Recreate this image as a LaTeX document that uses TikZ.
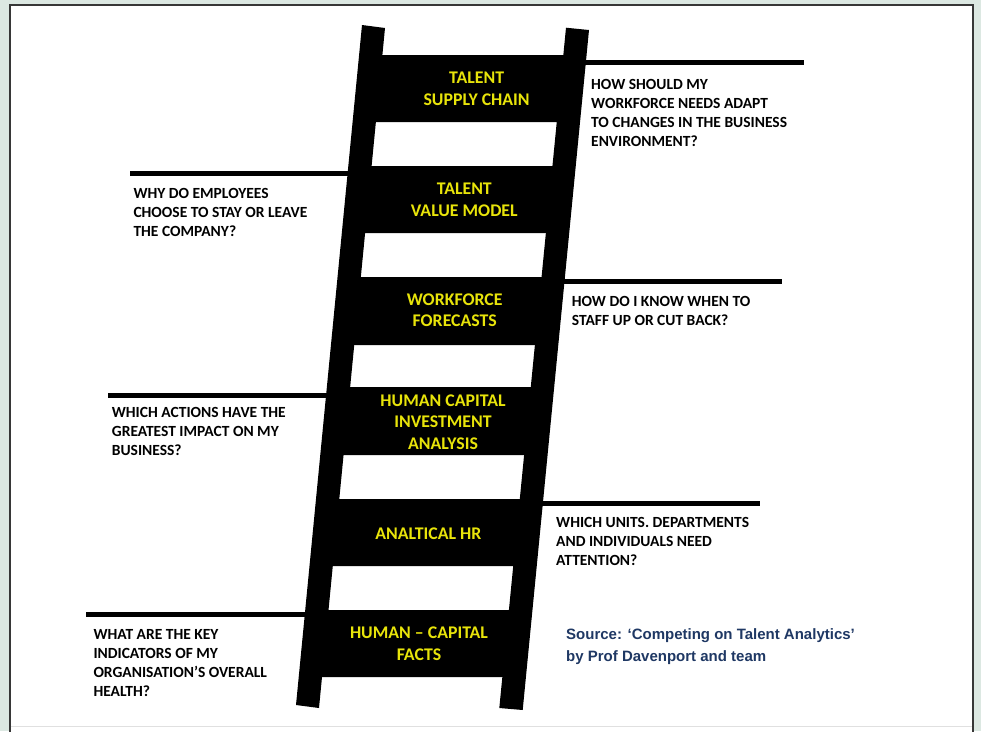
\documentclass[tikz,border=0pt]{standalone}
\usepackage{fontspec}
\setmainfont{Carlito}
\newfontfamily\srcfont{Liberation Sans}
\definecolor{bgout}{RGB}{220,232,226}
\definecolor{framec}{RGB}{55,55,55}
\definecolor{rungtext}{RGB}{232,228,10}
\definecolor{srcblue}{RGB}{31,56,100}
\tikzset{
  question/.style={anchor=base west, align=left, inner sep=0pt, text=black,
    font=\fontsize{15.5}{19}\selectfont\bfseries},
  rungtxt/.style={anchor=base, align=center, inner sep=0pt, text=rungtext,
    font=\fontsize{17.8}{21.5}\selectfont\bfseries},
  qline/.style={line width=4.6pt, black},
  source/.style={anchor=base west, align=left, inner sep=0pt, text=srcblue,
    font=\srcfont\fontsize{15}{22.4}\selectfont\bfseries}
}
\begin{document}
\begin{tikzpicture}[x=1pt,y=-1pt]
\useasboundingbox (0,0) rectangle (981,731);
\clip (0,0) rectangle (981,731);
\fill[bgout] (0,0) rectangle (981,731);
\draw[framec, line width=2.2pt, fill=white] (9.8,5) rectangle (972.8,745);
\draw[black!12, line width=1pt] (10.9,726.5) -- (971.7,726.5);
% rail centre lines
\def\xL#1{373.5-0.0971*(#1-26.5)}
\def\xR#1{577.5-0.0975*(#1-29)}
% question lines
\foreach \yy/\xe/\side [count=\i] in {62.2/804/R,173.5/130/L,281.3/782/R,395.5/107.5/L,503.5/760/R,614.5/85.5/L}{
  \pgfmathsetmacro\xa{\xL{\yy}}
  \pgfmathsetmacro\xb{\xR{\yy}}
  \ifx\side R
    \coordinate (ls\i) at (\xb,\yy);
  \else
    \coordinate (ls\i) at (\xa,\yy);
  \fi
  \coordinate (le\i) at (\xe,\yy);
  \draw[qline] (ls\i) -- (le\i);
}
% rails
\fill[black] (362,25) -- (385,28) -- (319,708) -- (296,705) -- cycle;
\fill[black] (566,27.7) -- (589,30) -- (522.7,710) -- (499.3,708) -- cycle;
% rungs
\foreach \t/\b in {55/122,166/233,277/345,387/455,499/566,610/677}{
  \pgfmathsetmacro\xlt{\xL{\t}}
  \pgfmathsetmacro\xrt{\xR{\t}}
  \pgfmathsetmacro\xlb{\xL{\b}}
  \pgfmathsetmacro\xrb{\xR{\b}}
  \fill[black] (\xlt,\t) -- (\xrt,\t) -- (\xrb,\b) -- (\xlb,\b) -- cycle;
}
% rung texts (anchored at the baseline of their last line)
\node[rungtxt] (r1) at (476.6,105) {TALENT\\SUPPLY CHAIN};
\node[rungtxt] (r2) at (464.3,216) {TALENT\\VALUE MODEL};
\node[rungtxt] (r3) at (454.7,326.7) {WORKFORCE\\FORECASTS};
\node[rungtxt] (r4) at (443,449) {HUMAN CAPITAL\\INVESTMENT\\ANALYSIS};
\node[rungtxt] (r5) at (428.3,539.3) {ANALTICAL HR};
\node[rungtxt] (r6) at (419,660.3) {HUMAN – CAPITAL\\FACTS};
% questions (anchored at the baseline of their last line)
\node[question] (q1) at (591,146.2) {HOW SHOULD MY\\WORKFORCE NEEDS ADAPT\\TO CHANGES IN THE BUSINESS\\ENVIRONMENT?};
\node[question] (q2) at (133.3,236.7) {WHY DO EMPLOYEES\\CHOOSE TO STAY OR LEAVE\\THE COMPANY?};
\node[question] (q3) at (571.7,325.5) {HOW DO I KNOW WHEN TO\\STAFF UP OR CUT BACK?};
\node[question] (q4) at (111.7,455) {WHICH ACTIONS HAVE THE\\GREATEST IMPACT ON MY\\BUSINESS?};
\node[question] (q5) at (556,565.7) {WHICH UNITS. DEPARTMENTS\\AND INDIVIDUALS NEED\\ATTENTION?};
\node[question] (q6) at (93.3,696) {WHAT ARE THE KEY\\INDICATORS OF MY\\ORGANISATION’S OVERALL\\HEALTH?};
% source
\node[source] (src) at (566,661.7) {Source: ‘Competing on Talent Analytics’\\by Prof Davenport and team};
\end{tikzpicture}
\end{document}
